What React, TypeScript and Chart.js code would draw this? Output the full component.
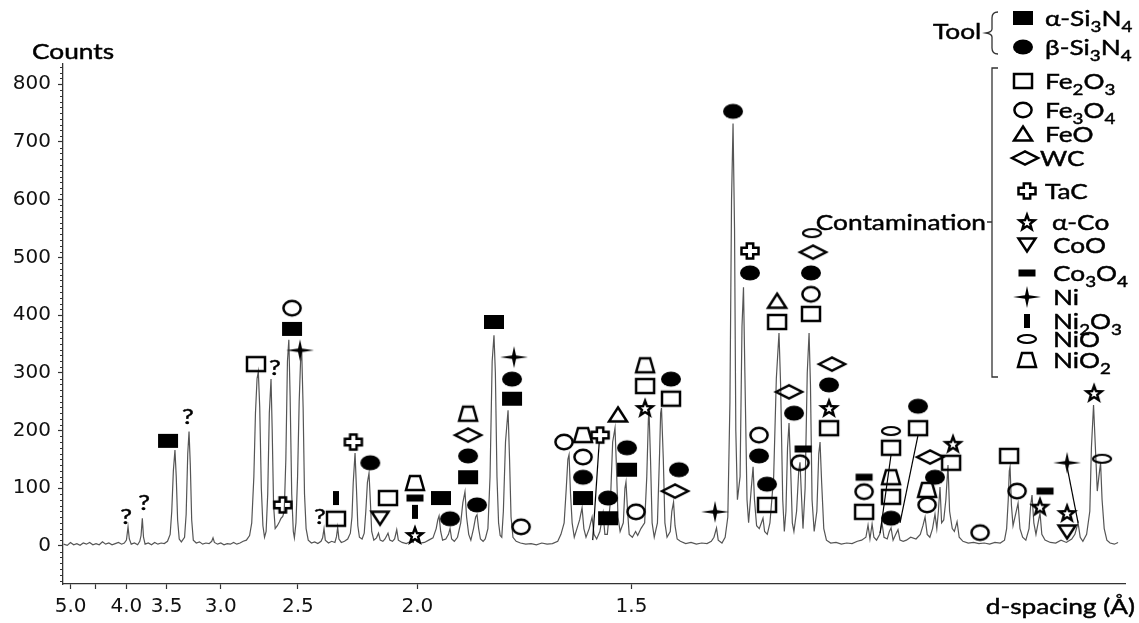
import React, { useEffect, useRef } from 'react';
import { Chart, registerables } from 'chart.js';

Chart.register(...registerables);

// X axis is linear in 2θ (Co Kα radiation); tick labels show d-spacing.
const WAVELENGTH = 1.789;
const dToTwoTheta = (d: number) => (360 / Math.PI) * Math.asin(WAVELENGTH / (2 * d));

const X_MIN = 19.9;
const X_MAX = 119.5;
const Y_MIN = -66;
const Y_MAX = 835;

const D_TICKS = [5.0, 4.5, 4.0, 3.5, 3.0, 2.5, 2.0, 1.5];
const D_TICK_LABELS = ['5.0', '', '4.0', '3.5', '3.0', '2.5', '2.0', '1.5'];
const COUNT_TICKS = [0, 100, 200, 300, 400, 500, 600, 700, 800];

// Diffractogram trace: [2θ (°), counts]
const TRACE: [number, number][] = [
  [19.95, 3], [20.3, 1], [20.6, 6], [20.9, 2], [21.2, 4], [21.5, 1], [21.8, 5], [22.1, 3], [22.4, 6], [22.7, 2],
  [23.0, 4], [23.3, 2], [23.6, 7], [23.9, 3], [24.2, 5], [24.5, 2], [24.8, 4], [25.1, 6], [25.4, 3], [25.65, 5],
  [25.85, 10], [26.0, 33], [26.12, 12], [26.3, 3], [26.6, 5], [26.9, 2], [27.1, 8],
  [27.22, 18], [27.34, 48], [27.45, 15], [27.6, 3], [27.9, 5], [28.2, 2], [28.5, 6], [28.8, 3], [29.1, 5], [29.4, 4], [29.7, 8],
  [29.95, 20], [30.1, 60], [30.25, 130], [30.4, 166], [30.52, 120], [30.65, 45], [30.8, 12], [31.0, 7],
  [31.3, 15], [31.45, 55], [31.6, 160], [31.72, 198], [31.84, 140], [31.97, 45], [32.12, 10], [32.4, 5], [32.7, 7], [33.0, 3], [33.3, 5], [33.6, 4],
  [33.85, 8], [33.97, 14], [34.1, 6], [34.4, 3], [34.7, 5], [35.0, 2], [35.3, 4], [35.6, 3], [35.9, 6], [36.2, 3], [36.5, 5], [36.8, 8], [37.1, 10],
  [37.4, 18], [37.6, 40], [37.8, 120], [37.95, 230], [38.1, 290], [38.22, 302], [38.35, 240], [38.5, 100], [38.65, 35], [38.8, 15],
  [38.95, 25], [39.1, 90], [39.25, 230], [39.41, 289], [39.52, 200], [39.65, 70], [39.8, 30],
  [40.0, 35], [40.2, 42], [40.35, 48], [40.51, 51], [40.65, 60],
  [40.8, 150], [40.95, 320], [41.08, 357], [41.2, 260], [41.35, 90], [41.5, 25], [41.6, 14],
  [41.75, 40], [41.9, 120], [42.05, 250], [42.18, 320], [42.29, 336], [42.42, 240], [42.55, 90], [42.7, 30], [42.9, 10], [43.2, 5], [43.5, 7], [43.8, 4], [44.1, 8],
  [44.25, 14], [44.38, 30], [44.5, 10], [44.8, 5], [45.1, 8], [45.4, 6],
  [45.55, 16], [45.66, 32], [45.78, 12], [46.0, 6], [46.3, 8], [46.6, 12], [46.85, 22],
  [47.0, 50], [47.12, 110], [47.29, 161], [47.42, 100], [47.55, 35], [47.7, 15], [47.95, 12], [48.15, 22],
  [48.3, 60], [48.45, 110], [48.6, 126], [48.72, 80], [48.85, 25], [49.05, 10], [49.3, 14],
  [49.49, 22], [49.65, 10], [49.9, 8], [50.1, 12], [50.38, 22], [50.55, 10], [50.8, 8], [51.0, 12], [51.2, 28], [51.35, 10], [51.7, 6], [52.1, 4], [52.5, 8], [52.75, 6],
  [52.91, 20], [53.05, 8], [53.4, 5], [53.8, 6], [54.2, 10], [54.6, 14],
  [54.9, 30], [55.05, 45], [55.17, 52], [55.32, 25], [55.5, 10], [55.8, 12],
  [56.05, 20], [56.2, 30], [56.35, 12], [56.6, 8], [56.9, 15], [57.2, 40],
  [57.4, 75], [57.6, 94], [57.75, 50], [57.95, 20], [58.15, 10], [58.4, 30],
  [58.6, 50], [58.73, 54], [58.88, 30], [59.05, 12], [59.3, 8], [59.5, 12],
  [59.75, 30], [59.95, 120], [60.15, 320], [60.32, 365], [60.45, 300], [60.6, 120], [60.75, 40], [60.9, 18], [61.05, 15],
  [61.2, 60], [61.4, 180], [61.64, 235], [61.78, 150], [61.92, 50], [62.1, 15], [62.4, 8], [62.8, 5], [63.3, 3], [63.8, 4], [64.3, 2], [64.8, 5], [65.3, 3], [65.8, 4], [66.3, 8], [66.6, 20],
  [66.9, 40], [67.1, 100], [67.25, 150], [67.36, 158], [67.5, 90], [67.65, 40], [67.85, 15],
  [68.1, 30], [68.35, 45], [68.58, 66], [68.75, 30], [68.95, 15],
  [69.25, 30], [69.52, 50], [69.7, 20], [69.95, 12],
  [70.25, 25], [70.55, 57], [70.72, 20], [70.95, 20],
  [71.25, 80], [71.45, 180], [71.67, 204], [71.8, 140], [71.95, 50], [72.15, 25],
  [72.45, 40], [72.6, 100], [72.7, 111], [72.85, 60], [73.0, 20], [73.3, 15], [73.6, 25], [73.8, 18], [74.1, 30],
  [74.45, 40], [74.65, 120], [74.8, 220], [74.86, 235], [75.0, 150], [75.15, 40], [75.35, 15],
  [75.65, 40], [75.85, 160], [75.95, 230], [76.03, 239], [76.2, 150], [76.35, 40], [76.55, 15],
  [76.85, 25], [77.0, 60], [77.16, 76], [77.3, 35], [77.5, 12], [77.8, 8], [78.3, 4], [78.8, 6], [79.3, 3], [79.8, 5], [80.3, 4], [80.7, 8], [80.95, 15],
  [81.19, 31], [81.35, 10], [81.7, 5], [82.0, 15],
  [82.25, 50], [82.45, 250], [82.6, 600], [82.74, 732], [82.88, 550], [83.0, 200], [83.15, 80],
  [83.4, 120], [83.58, 380], [83.72, 448], [83.85, 300], [84.05, 80], [84.2, 40],
  [84.45, 100], [84.62, 137], [84.75, 80], [84.95, 35],
  [85.2, 30], [85.4, 40], [85.55, 48], [85.7, 25], [85.95, 20], [86.2, 40],
  [86.55, 120], [86.8, 290], [87.05, 369], [87.2, 280], [87.4, 80], [87.55, 25],
  [87.7, 60], [87.85, 170], [87.99, 213], [88.15, 130], [88.3, 40], [88.45, 25],
  [88.7, 60], [88.9, 130], [89.02, 145], [89.15, 90], [89.3, 30],
  [89.5, 100], [89.7, 300], [89.87, 369], [90.0, 280], [90.15, 80], [90.35, 25],
  [90.6, 60], [90.78, 160], [90.9, 180], [91.05, 110], [91.25, 30], [91.5, 10], [91.9, 5], [92.4, 6], [92.9, 3], [93.4, 5], [93.9, 4], [94.4, 8], [94.8, 10],
  [95.2, 15], [95.4, 36], [95.58, 12], [95.78, 38], [95.95, 15], [96.2, 10], [96.5, 20],
  [96.71, 40], [96.9, 15], [97.2, 12], [97.4, 25], [97.56, 31], [97.75, 10], [98.0, 20], [98.21, 28], [98.4, 10], [98.7, 8], [99.0, 10], [99.4, 15], [99.9, 12],
  [100.3, 20], [100.55, 35], [100.75, 50], [100.95, 20], [101.2, 15], [101.45, 30], [101.68, 55], [101.85, 30],
  [102.0, 60], [102.15, 102], [102.3, 40], [102.5, 45],
  [102.7, 80], [102.9, 140], [103.05, 60], [103.3, 30], [103.5, 25],
  [103.75, 42], [103.95, 15], [104.3, 8], [104.8, 5], [105.3, 6], [105.8, 4], [106.3, 5], [106.8, 3], [107.3, 6], [107.8, 5], [108.2, 10], [108.4, 30],
  [108.55, 80], [108.65, 130], [108.72, 137], [108.85, 70], [109.0, 35],
  [109.3, 60], [109.47, 74], [109.65, 30], [109.9, 15], [110.2, 10], [110.5, 30],
  [110.65, 70], [110.78, 88], [110.95, 40], [111.15, 20],
  [111.35, 40], [111.53, 57], [111.7, 20], [112.0, 10], [112.5, 6], [113.0, 5], [113.5, 10], [114.0, 6], [114.5, 12], [114.8, 20],
  [115.1, 40], [115.3, 15], [115.55, 8], [115.9, 20],
  [116.2, 60], [116.35, 170], [116.55, 244], [116.7, 180], [116.9, 95],
  [117.05, 120], [117.21, 144], [117.35, 80], [117.55, 30], [117.8, 10], [118.1, 5], [118.5, 3], [118.85, 6],
];

// Phase markers: [2θ (°), counts]
const ALPHA_SI3N4: [number, number][] = [[29.75, 182], [41.38, 376], [55.35, 83], [57.89, 119], [60.32, 388], [62.01, 255], [68.67, 83], [71.02, 48], [72.8, 132]];
const BETA_SI3N4: [number, number][] = [[48.72, 144], [56.2, 47], [57.89, 156], [58.73, 71], [62.01, 289], [68.67, 119], [71.02, 83], [72.8, 170], [76.92, 289], [77.67, 132], [82.74, 753], [84.33, 473], [85.18, 156], [85.93, 107], [88.46, 230], [90.05, 473], [91.74, 279], [97.56, 48], [100.09, 242], [101.68, 119]];
const FE2O3: [number, number][] = [[38.0, 315], [45.5, 47], [50.38, 83], [74.49, 277], [76.92, 255], [85.93, 71], [86.87, 388], [90.05, 402], [91.74, 204], [95.03, 59], [97.56, 170], [97.56, 85], [100.09, 204], [103.19, 144], [108.63, 156]];
const FE3O4: [number, number][] = [[41.38, 412], [62.86, 33], [66.89, 180], [68.67, 154], [73.64, 59], [85.18, 192], [89.02, 144], [90.05, 436], [95.03, 94], [100.94, 71], [105.91, 23], [109.38, 95]];
const FEO: [number, number][] = [[71.95, 227], [86.87, 424]];
const WC: [number, number][] = [[57.89, 192], [77.3, 95], [87.99, 267], [90.24, 509], [92.02, 315], [101.22, 154]];
const TAC: [number, number][] = [[40.51, 71], [47.13, 180], [70.27, 192], [84.33, 511]];
const ALPHA_CO: [number, number][] = [[52.91, 19], [74.49, 239], [91.74, 239], [103.37, 177], [111.53, 68], [114.07, 57], [116.6, 265]];
const COO: [number, number][] = [[49.63, 48], [114.07, 24]];
const CO3O4: [number, number][] = [[52.91, 83], [89.31, 168], [95.03, 119], [112.0, 95]];
const NI: [number, number][] = [[42.13, 339], [62.2, 327], [81.05, 59], [114.07, 144]];
const NI2O3: [number, number][] = [[45.5, 83], [52.91, 59]];
const NIO: [number, number][] = [[90.15, 542], [97.56, 199], [117.35, 151]];
const NIO2: [number, number][] = [[52.91, 109], [57.89, 229], [68.67, 192], [74.49, 313], [97.56, 119], [100.94, 97]];

// Unidentified peaks ("?") and leader lines [x1, y1, x2, y2]
const UNKNOWN_PEAKS: [number, number][] = [[25.81, 50], [27.5, 74], [31.62, 223], [39.78, 308], [44.0, 50]];
const LEADERS: [number, number, number, number][] = [[70.19, 180, 69.58, 10], [97.56, 158, 96.53, 22], [100.09, 192, 98.4, 40], [114.07, 137, 115.1, 40]];

type Phase = { name: string; label: string; shape: string; points: [number, number][]; group: 'tool' | 'contamination' };
const PHASES: Phase[] = [
  { name: 'α-Si3N4', label: 'α-Si_3N_4', shape: 'fsquare', points: ALPHA_SI3N4, group: 'tool' },
  { name: 'β-Si3N4', label: 'β-Si_3N_4', shape: 'fcircle', points: BETA_SI3N4, group: 'tool' },
  { name: 'Fe2O3', label: 'Fe_2O_3', shape: 'osquare', points: FE2O3, group: 'contamination' },
  { name: 'Fe3O4', label: 'Fe_3O_4', shape: 'ocircle', points: FE3O4, group: 'contamination' },
  { name: 'FeO', label: 'FeO', shape: 'triangle', points: FEO, group: 'contamination' },
  { name: 'WC', label: 'WC', shape: 'diamond', points: WC, group: 'contamination' },
  { name: 'TaC', label: 'TaC', shape: 'tac', points: TAC, group: 'contamination' },
  { name: 'α-Co', label: 'α-Co', shape: 'star', points: ALPHA_CO, group: 'contamination' },
  { name: 'CoO', label: 'CoO', shape: 'itriangle', points: COO, group: 'contamination' },
  { name: 'Co3O4', label: 'Co_3O_4', shape: 'hbar', points: CO3O4, group: 'contamination' },
  { name: 'Ni', label: 'Ni', shape: 'ni', points: NI, group: 'contamination' },
  { name: 'Ni2O3', label: 'Ni_2O_3', shape: 'vbar', points: NI2O3, group: 'contamination' },
  { name: 'NiO', label: 'NiO', shape: 'nio', points: NIO, group: 'contamination' },
  { name: 'NiO2', label: 'NiO_2', shape: 'trap', points: NIO2, group: 'contamination' },
];

// legend layout (pixel positions)
const LEGEND_ROWS: { x: number; y: number; tx: number }[] = [
  { x: 1023, y: 18, tx: 1045 }, { x: 1023, y: 47, tx: 1045 },
  { x: 1023, y: 81, tx: 1045 }, { x: 1023, y: 110, tx: 1045 }, { x: 1023, y: 134, tx: 1045 },
  { x: 1025, y: 158, tx: 1040 }, { x: 1027, y: 191, tx: 1045 }, { x: 1027, y: 222, tx: 1052 },
  { x: 1027, y: 245, tx: 1053 }, { x: 1027, y: 273, tx: 1053 }, { x: 1027, y: 297, tx: 1053 },
  { x: 1027, y: 321, tx: 1053 }, { x: 1027, y: 339, tx: 1053 }, { x: 1027, y: 360, tx: 1053 },
];

const TEXT_FONT = 'Lato, "Open Sans", sans-serif';
const SX = 1.25;
const TEXT_SIZE = 21;

function makeMarker(shape: string): HTMLCanvasElement {
  const c = document.createElement('canvas');
  c.width = 32;
  c.height = 26;
  const g = c.getContext('2d')!;
  g.translate(16, 13);
  g.fillStyle = '#000';
  g.strokeStyle = '#000';
  g.lineWidth = 2.5;
  g.lineJoin = 'miter';
  const poly = (pts: number[][], fill = false) => {
    g.beginPath();
    pts.forEach(([x, y], i) => (i ? g.lineTo(x, y) : g.moveTo(x, y)));
    g.closePath();
    fill ? g.fill() : g.stroke();
  };
  const starPts = (R: number, r: number) => {
    const pts: number[][] = [];
    for (let i = 0; i < 10; i++) {
      const a = -Math.PI / 2 + (i * Math.PI) / 5;
      const rr = i % 2 ? r : R;
      pts.push([rr * Math.cos(a), rr * Math.sin(a) + 0.8]);
    }
    return pts;
  };
  switch (shape) {
    case 'fsquare':
      g.fillRect(-10, -7, 20, 14);
      break;
    case 'fcircle':
      g.beginPath(); g.ellipse(0, 0, 10, 7.5, 0, 0, Math.PI * 2); g.fill();
      break;
    case 'osquare':
      g.strokeRect(-9, -7, 18, 14);
      break;
    case 'ocircle':
      g.beginPath(); g.ellipse(0, 0, 8.6, 7.2, 0, 0, Math.PI * 2); g.stroke();
      break;
    case 'triangle':
      poly([[0, -7.5], [9, 6.5], [-9, 6.5]]);
      break;
    case 'itriangle':
      poly([[-8.5, -6.5], [8.5, -6.5], [0, 6.5]]);
      break;
    case 'diamond':
      poly([[-13, 0], [0, -6.5], [13, 0], [0, 6.5]]);
      break;
    case 'tac': {
      const a = 3.2, X = 8.5, Y = 7.5;
      poly([[-a, -Y], [a, -Y], [a, -a], [X, -a], [X, a], [a, a], [a, Y], [-a, Y], [-a, a], [-X, a], [-X, -a], [-a, -a]]);
      break;
    }
    case 'star':
      poly(starPts(11.5, 4.8), true);
      g.fillStyle = '#fff';
      poly(starPts(4.3, 1.9), true);
      break;
    case 'hbar':
      g.fillRect(-8.5, -3.5, 17, 7);
      break;
    case 'vbar':
      g.fillRect(-3, -7, 6, 14);
      break;
    case 'ni':
      poly([[-14, 0], [-2, -1.8], [0, -11], [2, -1.8], [14, 0], [2, 1.8], [0, 11], [-2, 1.8]], true);
      break;
    case 'nio':
      g.lineWidth = 2.2;
      g.beginPath(); g.ellipse(0, 0, 9, 4, 0, 0, Math.PI * 2); g.stroke();
      break;
    case 'trap':
      poly([[-5, -7], [5, -7], [9, 7], [-9, 7]]);
      break;
  }
  return c;
}

function drawRich(ctx: CanvasRenderingContext2D, text: string, x: number, y: number, size: number, align: 'left' | 'right' | 'center' = 'left') {
  const parts = text.split(/(_\d)/).filter(Boolean);
  ctx.save();
  ctx.textBaseline = 'alphabetic';
  ctx.textAlign = 'left';
  ctx.fillStyle = '#000';
  ctx.strokeStyle = '#000';
  ctx.lineWidth = 0.45;
  let total = 0;
  for (const p of parts) {
    const sub = p.startsWith('_');
    ctx.font = `${sub ? Math.round(size * 0.72) : size}px ${TEXT_FONT}`;
    total += ctx.measureText(sub ? p.slice(1) : p).width;
  }
  const start = align === 'left' ? x : align === 'right' ? x - total * SX : x - (total * SX) / 2;
  ctx.translate(start, y);
  ctx.scale(SX, 1);
  let cx = 0;
  for (const p of parts) {
    const sub = p.startsWith('_');
    const t = sub ? p.slice(1) : p;
    ctx.font = `${sub ? Math.round(size * 0.72) : size}px ${TEXT_FONT}`;
    const ty = sub ? size * 0.3 : 0;
    ctx.fillText(t, cx, ty);
    ctx.strokeText(t, cx, ty);
    cx += ctx.measureText(t).width;
  }
  ctx.restore();
}

export default function App() {
  const canvasRef = useRef<HTMLCanvasElement | null>(null);

  useEffect(() => {
    if (!canvasRef.current) return;
    const markers: Record<string, HTMLCanvasElement> = {};
    PHASES.forEach((p) => (markers[p.shape] = makeMarker(p.shape)));

    const annotations = {
      id: 'xrdAnnotations',
      afterDatasetsDraw(chart: any) {
        const { ctx, scales } = chart;
        const xs = scales.x, ys = scales.y;
        ctx.save();
        ctx.strokeStyle = '#000';
        ctx.lineWidth = 1.2;
        for (const [x1, y1, x2, y2] of LEADERS) {
          ctx.beginPath();
          ctx.moveTo(xs.getPixelForValue(x1), ys.getPixelForValue(y1));
          ctx.lineTo(xs.getPixelForValue(x2), ys.getPixelForValue(y2));
          ctx.stroke();
        }
        for (const [qx, qy] of UNKNOWN_PEAKS) {
          drawRich(ctx, '?', xs.getPixelForValue(qx), ys.getPixelForValue(qy) + 7, 21, 'center');
        }
        ctx.restore();
      },
      afterDraw(chart: any) {
        const { ctx, scales, chartArea } = chart;
        const ys = scales.y;
        ctx.save();
        // minor ticks on the counts axis
        ctx.strokeStyle = '#333';
        ctx.lineWidth = 1;
        for (let v = -60; v <= 830; v += 10) {
          if (v % 100 === 0) continue;
          const py = Math.round(ys.getPixelForValue(v)) + 0.5;
          ctx.beginPath();
          ctx.moveTo(chartArea.left - 3, py);
          ctx.lineTo(chartArea.left, py);
          ctx.stroke();
        }
        // axis titles
        drawRich(ctx, 'Counts', 32, 59, TEXT_SIZE, 'left');
        drawRich(ctx, 'd-spacing (Å)', 1135, 614, TEXT_SIZE, 'right');

        // legend
        PHASES.forEach((p, i) => {
          const row = LEGEND_ROWS[i];
          const m = markers[p.shape];
          ctx.drawImage(m, row.x - m.width / 2, row.y - m.height / 2);
          drawRich(ctx, p.label, row.tx, row.y + 7.5, TEXT_SIZE, 'left');
        });
        drawRich(ctx, 'Tool', 933, 39, TEXT_SIZE, 'left');
        drawRich(ctx, 'Contamination', 986, 229.5, TEXT_SIZE, 'right');
        ctx.strokeStyle = '#333';
        ctx.lineWidth = 1.3;
        // curly brace for tool group
        ctx.beginPath();
        ctx.moveTo(998, 12);
        ctx.quadraticCurveTo(992, 12, 992, 18);
        ctx.lineTo(992, 29);
        ctx.quadraticCurveTo(992, 32, 986, 33);
        ctx.quadraticCurveTo(992, 34, 992, 37);
        ctx.lineTo(992, 48);
        ctx.quadraticCurveTo(992, 54, 998, 54);
        ctx.stroke();
        // bracket for contamination group
        ctx.beginPath();
        ctx.moveTo(998, 68);
        ctx.lineTo(992, 68);
        ctx.lineTo(992, 377);
        ctx.lineTo(998, 377);
        ctx.moveTo(987, 222);
        ctx.lineTo(992, 222);
        ctx.stroke();
        ctx.restore();
      },
    };

    const datasets: any[] = [
      {
        label: 'Pattern',
        data: TRACE.map(([x, y]) => ({ x, y })),
        showLine: true,
        borderColor: '#555',
        borderWidth: 1.2,
        pointRadius: 0,
        tension: 0,
        order: 10,
      },
      ...PHASES.map((p) => ({
        label: p.name,
        data: p.points.map(([x, y]) => ({ x, y })),
        showLine: false,
        pointStyle: markers[p.shape],
        pointRadius: 6,
        order: 0,
      })),
    ];

    const tickFont = { family: '"DejaVu Sans", sans-serif', size: 20 };

    const chart = new Chart(canvasRef.current, {
      type: 'scatter',
      data: { datasets },
      options: {
        animation: false,
        responsive: true,
        maintainAspectRatio: false,
        layout: { padding: { top: 64, right: 14, bottom: 0, left: 0 } },
        plugins: { legend: { display: false }, tooltip: { enabled: false } },
        scales: {
          x: {
            type: 'linear',
            min: X_MIN,
            max: X_MAX,
            afterBuildTicks: (s: any) => {
              s.ticks = D_TICKS.map((d) => ({ value: dToTwoTheta(d) }));
            },
            afterFit: (s: any) => {
              s.height = 39;
            },
            ticks: {
              autoSkip: false,
              maxRotation: 0,
              padding: 6,
              color: '#111',
              font: tickFont,
              callback: (_v: any, i: number) => D_TICK_LABELS[i] ?? '',
            },
            grid: { drawOnChartArea: false, drawTicks: true, tickLength: 5, tickColor: '#333', tickWidth: 1.2 },
            border: { display: true, color: '#333', width: 1.3 },
          },
          y: {
            type: 'linear',
            min: Y_MIN,
            max: Y_MAX,
            afterBuildTicks: (s: any) => {
              s.ticks = COUNT_TICKS.map((v) => ({ value: v }));
            },
            afterFit: (s: any) => {
              s.width = 63;
            },
            ticks: { padding: 7, color: '#111', font: tickFont, callback: (v: any) => String(v) },
            grid: { drawOnChartArea: false, drawTicks: true, tickLength: 5, tickColor: '#333', tickWidth: 1.2 },
            border: { display: true, color: '#333', width: 1.3 },
          },
        },
      } as any,
      plugins: [annotations],
    });
    return () => chart.destroy();
  }, []);

  return (
    <div style={{ position: 'absolute', left: 0, top: 0, width: 1139, height: 623, background: '#fff' }}>
      <canvas ref={canvasRef} />
    </div>
  );
}
